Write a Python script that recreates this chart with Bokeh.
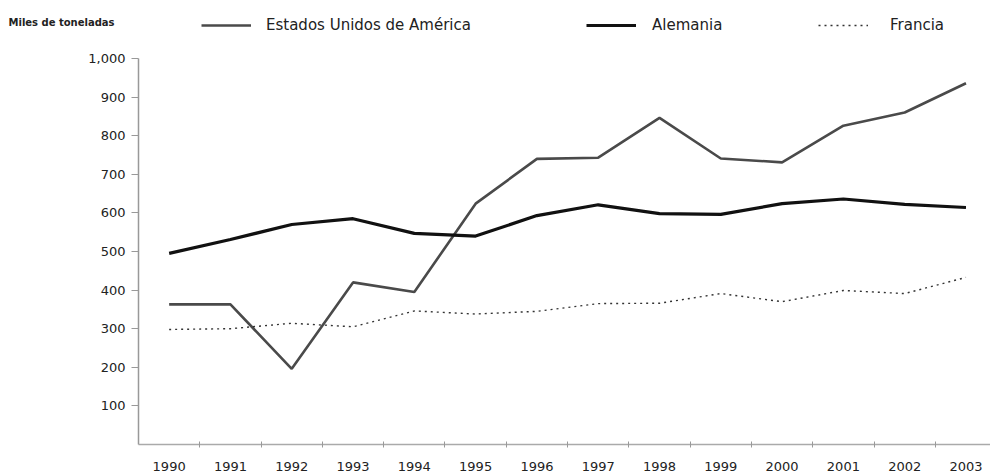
from bokeh.plotting import figure
from bokeh.layouts import column, row
from bokeh.models import Range1d, FixedTicker, NumeralTickFormatter, Legend, LegendItem, Label
from bokeh.embed import file_html
from bokeh.resources import INLINE

years = list(range(1990, 2004))
usa = [363, 363, 196, 420, 395, 624, 740, 743, 846, 741, 731, 826, 860, 936]
alemania = [495, 531, 570, 585, 547, 540, 593, 621, 598, 596, 624, 636, 622, 614]
francia = [298, 300, 314, 305, 346, 338, 345, 365, 366, 391, 370, 399, 391, 433]
y_ticks = [100, 200, 300, 400, 500, 600, 700, 800, 900, 1000]
series_names = ["Estados Unidos de América", "Alemania", "Francia"]
unit_label = "Miles de toneladas"

FONT = "DejaVu Sans"
NAN = float("nan")
styles = [dict(line_color="#4a4a4a", line_width=2.6),
          dict(line_color="#111111", line_width=3.2),
          dict(line_color="#333333", line_width=1.4, line_dash="2 4")]

# ---- main chart ----
p = figure(width=990, height=425, output_backend="svg", toolbar_location=None,
           x_range=Range1d(1989.5, 2003.4), y_range=Range1d(0, 1000),
           min_border_left=138, min_border_right=0, min_border_top=8, min_border_bottom=31)
p.outline_line_color = None
p.xgrid.visible = False
p.ygrid.visible = False

p.line(years, usa, **styles[0])
p.line(years, alemania, **styles[1])
p.line(years, francia, **styles[2])

xa = p.xaxis[0]
xa.ticker = FixedTicker(ticks=years, minor_ticks=[y - 0.5 for y in years[1:]])
xa.major_tick_out = 0
xa.major_tick_in = 0
xa.minor_tick_out = 3
xa.minor_tick_in = 3
xa.minor_tick_line_color = "#999999"
xa.axis_line_color = "#aaaaaa"
xa.axis_line_width = 1.5
xa.major_label_text_font = FONT
xa.major_label_text_font_size = "13px"
xa.major_label_text_color = "#222222"
xa.major_label_standoff = 14

ya = p.yaxis[0]
ya.ticker = FixedTicker(ticks=y_ticks)
ya.formatter = NumeralTickFormatter(format="0,0")
ya.major_tick_out = 7
ya.major_tick_in = 0
ya.minor_tick_out = 0
ya.minor_tick_in = 0
ya.major_tick_line_color = "#999999"
ya.axis_line_color = "#999999"
ya.axis_line_width = 1.5
ya.major_label_text_font = FONT
ya.major_label_text_font_size = "13px"
ya.major_label_text_color = "#222222"
ya.major_label_standoff = 6

# ---- header with unit label and legend ----
h = figure(width=990, height=50, output_backend="svg", toolbar_location=None,
           x_range=Range1d(0, 1), y_range=Range1d(0, 1),
           x_axis_type=None, y_axis_type=None,
           min_border_left=0, min_border_right=0, min_border_top=0, min_border_bottom=0)
h.outline_line_color = None
h.xgrid.visible = False
h.ygrid.visible = False

legend_x = [201, 586, 818]
standoffs = [15, 16, 22]
for name, st, lx, so in zip(series_names, styles, legend_x, standoffs):
    r = h.line(x=[NAN, NAN], y=[NAN, NAN], **st)
    lg = Legend(items=[LegendItem(label=name, renderers=[r])],
                location=(lx, 16), orientation="horizontal",
                glyph_width=50, glyph_height=16, label_height=16, label_standoff=so,
                padding=4, margin=0, border_line_color=None, background_fill_alpha=0,
                label_text_font=FONT, label_text_font_size="15px", label_text_color="#222222")
    h.add_layout(lg)

h.add_layout(Label(x=8, y=28, x_units="screen", y_units="screen", text=unit_label,
                   text_font=FONT, text_font_style="bold", text_font_size="10px",
                   text_color="#222222", text_baseline="middle"))

layout = column(row(h), p, spacing=0)
open("out.html", "w").write(file_html(layout, INLINE))
